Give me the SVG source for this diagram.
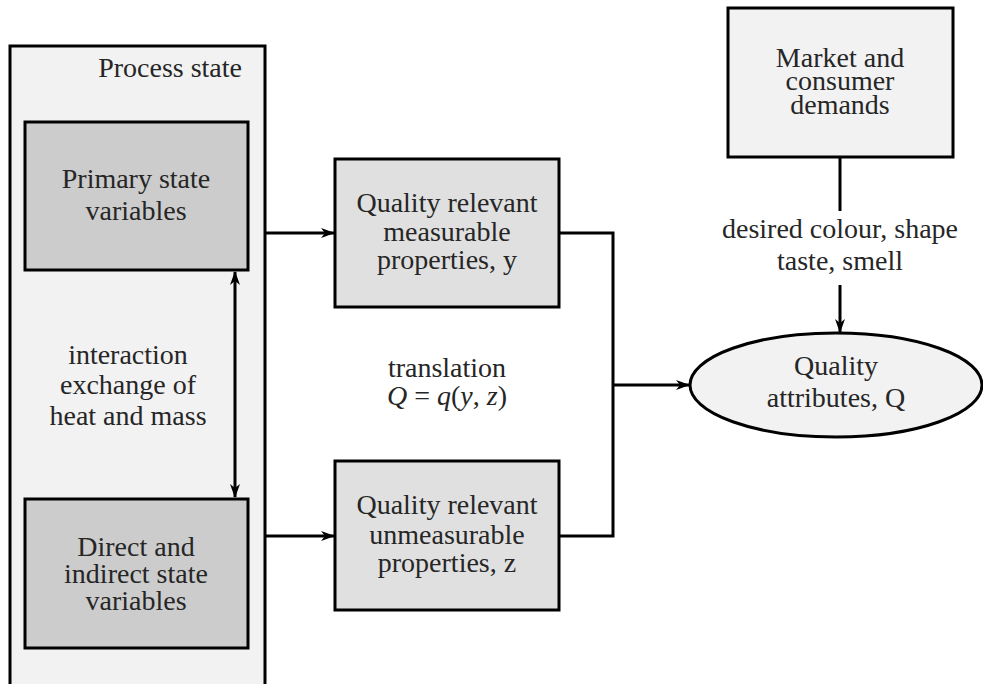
<svg xmlns="http://www.w3.org/2000/svg" width="983" height="684" viewBox="0 0 983 684">
  <style>
    .box { stroke: #000; stroke-width: 3; }
    .light { fill: #f2f2f2; }
    .dark { fill: #cccccc; }
    .mid { fill: #e0e0e0; }
  </style>
  <defs>
    <marker id="head" viewBox="0 0 14 10" refX="13" refY="5" markerWidth="14" markerHeight="10" markerUnits="userSpaceOnUse" orient="auto-start-reverse">
      <path d="M0,0 L14,5 L0,10 L4,5 Z" fill="#000"/>
    </marker>
  </defs>

  <!-- outer container -->
  <g id="process-state" font-family="Liberation Serif" font-size="28" fill="#262626">
    <rect class="box light" x="10" y="46" width="255" height="640"/>
    <text x="242" y="77" text-anchor="end">Process state</text>
  </g>

  <g id="primary" font-family="Liberation Serif" font-size="28" fill="#262626" text-anchor="middle">
    <rect class="box dark" x="25" y="122" width="223" height="148"/>
    <text x="136" y="188">Primary state</text>
    <text x="136" y="220">variables</text>
  </g>

  <g id="direct" font-family="Liberation Serif" font-size="28" fill="#262626" text-anchor="middle">
    <rect class="box dark" x="25" y="499" width="223" height="149"/>
    <text x="136" y="556">Direct and</text>
    <text x="136" y="583">indirect state</text>
    <text x="136" y="610">variables</text>
  </g>

  <g id="interaction-label" font-family="Liberation Serif" font-size="28" fill="#262626" text-anchor="middle">
    <text x="128" y="364">interaction</text>
    <text x="128" y="394">exchange of</text>
    <text x="128" y="425">heat and mass</text>
  </g>

  <g id="measurable" font-family="Liberation Serif" font-size="28" fill="#262626" text-anchor="middle">
    <rect class="box mid" x="335" y="159" width="224" height="148"/>
    <text x="447" y="212">Quality relevant</text>
    <text x="447" y="241">measurable</text>
    <text x="447" y="269">properties, y</text>
  </g>

  <g id="unmeasurable" font-family="Liberation Serif" font-size="28" fill="#262626" text-anchor="middle">
    <rect class="box mid" x="335" y="461" width="224" height="149"/>
    <text x="447" y="514">Quality relevant</text>
    <text x="447" y="544">unmeasurable</text>
    <text x="447" y="572">properties, z</text>
  </g>

  <g id="translation-label" font-family="Liberation Serif" font-size="28" fill="#262626" text-anchor="middle">
    <text x="447" y="377">translation</text>
    <text x="447" y="405"><tspan font-style="italic">Q</tspan> = <tspan font-style="italic">q</tspan>(<tspan font-style="italic">y</tspan>, <tspan font-style="italic">z</tspan>)</text>
  </g>

  <g id="market" font-family="Liberation Serif" font-size="28" fill="#262626" text-anchor="middle">
    <rect class="box light" x="728" y="8" width="225" height="149"/>
    <text x="840" y="67">Market and</text>
    <text x="840" y="90">consumer</text>
    <text x="840" y="114">demands</text>
  </g>

  <g id="demand-label" font-family="Liberation Serif" font-size="28" fill="#262626" text-anchor="middle">
    <text x="840" y="238">desired colour, shape</text>
    <text x="840" y="270">taste, smell</text>
  </g>

  <g id="quality-attributes" font-family="Liberation Serif" font-size="28" fill="#262626" text-anchor="middle">
    <ellipse class="box light" cx="836" cy="385" rx="146" ry="52"/>
    <text x="836" y="375">Quality</text>
    <text x="836" y="407">attributes, Q</text>
  </g>

  <g id="connectors" fill="none" stroke="#000" stroke-width="3">
    <path d="M235,272 L235,497" marker-start="url(#head)" marker-end="url(#head)"/>
    <path d="M265,233 L334,233" marker-end="url(#head)"/>
    <path d="M265,536 L334,536" marker-end="url(#head)"/>
    <path d="M559,233 L613,233 L613,536 L559,536"/>
    <path d="M613,385 L689,385" marker-end="url(#head)"/>
    <path d="M840,157 L840,211"/>
    <path d="M840,285 L840,332" marker-end="url(#head)"/>
  </g>
</svg>
